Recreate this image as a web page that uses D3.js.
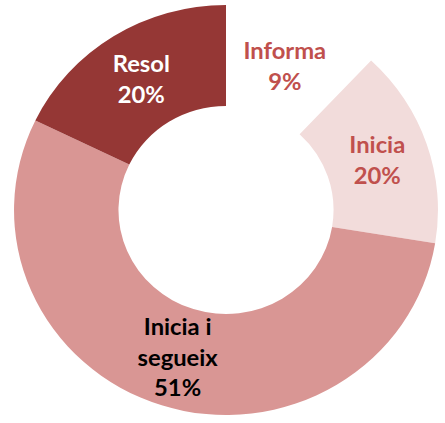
<!DOCTYPE html>
<html>
<head>
<meta charset="utf-8">
<script src="https://cdn.jsdelivr.net/npm/d3@7"></script>
<style>
	html, body { margin: 0; padding: 0; background: #fff; }
	svg { display: block; }
</style>
</head>
<body>
<div id="chart"></div>
<script>
// categories, clockwise from 12 o'clock
var categories = ['Informa', 'Inicia', 'Inicia i segueix', 'Resol']
// percentages printed on the labels
var pctLabels = ['9%', '20%', '51%', '20%']
// share of the ring each slice actually takes in the drawing
var sliceShares = [12, 15.6, 54.6, 17.8]
// label lines per slice
var labelLines = [['Informa'], ['Inicia'], ['Inicia i', 'segueix'], ['Resol']]

var fills = ['none', '#f2dcdb', '#d99694', '#953735'],
	textColors = ['#c0504d', '#c0504d', '#000000', '#ffffff']

var width = 445,
	height = 423,
	cx = 226,
	cy = 210,
	outerR = 205,
	innerR = 104,
	lineH = 30.5

var svg = d3.select('#chart').append('svg')
	.attr('width', width)
	.attr('height', height)

var g = svg.append('g')
	.attr('transform', 'translate(' + cx + ',' + cy + ') scale(1.034,1)')

var pie = d3.pie().sort(null).value(function(d) { return d })
var arc = d3.arc().innerRadius(innerR).outerRadius(outerR)

var slices = pie(sliceShares)

g.selectAll('path.slice')
	.data(slices)
	.enter().append('path')
	.attr('class', 'slice')
	.attr('d', arc)
	.attr('fill', function(d, i) { return fills[i] })

var labels = g.selectAll('text.lbl')
	.data(slices)
	.enter().append('text')
	.attr('class', 'lbl')
	.attr('text-anchor', 'middle')
	.attr('font-family', 'Lato, "Open Sans", sans-serif')
	.attr('font-weight', 'bold')
	.attr('font-size', 23)
	.attr('fill', function(d, i) { return textColors[i] })

labels.each(function(d, i) {
	var c = arc.centroid(d),
		lines = labelLines[i].concat([pctLabels[i]]),
		n = lines.length
	d3.select(this).selectAll('tspan')
		.data(lines)
		.enter().append('tspan')
		.attr('x', c[0])
		.attr('y', function(t, j) { return c[1] + (j - (n - 1) / 2) * lineH })
		.attr('dy', '0.36em')
		.text(function(t) { return t })
})
</script>
</body>
</html>
